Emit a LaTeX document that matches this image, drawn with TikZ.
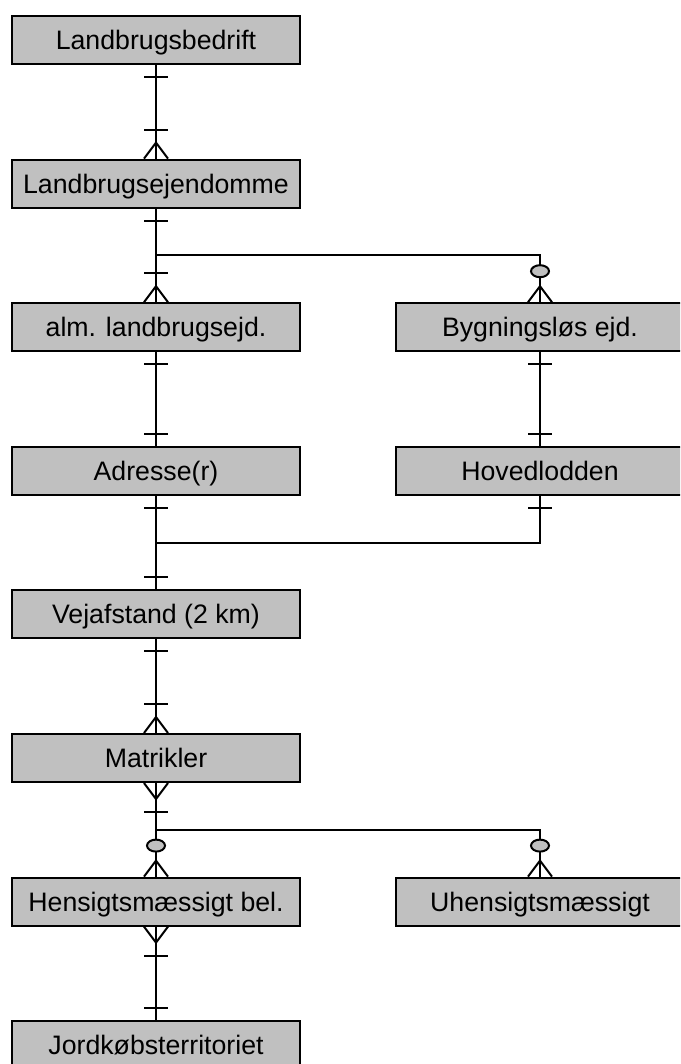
\documentclass[tikz,border=0pt]{standalone}
\usepackage{fontspec}
\setmainfont{Liberation Sans}
\usepackage{xcolor}
\definecolor{boxgray}{RGB}{192,192,192}

\tikzset{entity/.style={draw, fill=boxgray, minimum width=288pt, minimum height=48pt,
  inner sep=0pt, text height=19pt, text depth=0pt, font=\fontsize{26.7}{30}\selectfont}}
% crow's foot marks: anchor, offset from the box edge
\newcommand{\erone}[2]{\draw (#1) ++(0,#2) +(-12,0) -- +(12,0);}
\newcommand{\ermany}[2]{\draw (#1) +(-12,0) -- +(0,#2) -- +(12,0);}
\newcommand{\erzero}[2]{\draw[fill=boxgray] (#1) ++(0,#2) ellipse [x radius=9pt, y radius=6pt];}

\begin{document}
\begin{tikzpicture}[x=1pt, y=-1pt, line width=2pt]
  \useasboundingbox (0,0) rectangle (680,1064);
  \clip (0,0) rectangle (680,1064);
  \node[entity] (bedrift) at (156,40) {Landbrugsbedrift};
  \node[entity] (ejd) at (156,183.6) {Landbrugsejendomme};
  \node[entity] (alm) at (156,327.2) {alm. landbrugsejd.};
  \node[entity] (bygn) at (540,327.2) {Bygningsløs ejd.};
  \node[entity] (adr) at (156,470.8) {Adresse(r)};
  \node[entity] (hoved) at (540,470.8) {Hovedlodden};
  \node[entity] (vej) at (156,614.4) {Vejafstand (2 km)};
  \node[entity] (matr) at (156,758) {Matrikler};
  \node[entity] (hens) at (156,901.6) {Hensigtsmæssigt bel.};
  \node[entity] (uhens) at (540,901.6) {Uhensigtsmæssigt};
  \node[entity] (jord) at (156,1045.2) {Jordkøbsterritoriet};
  \coordinate (j1) at (156,255.4);
  \coordinate (j2) at (156,542.6);
  \coordinate (j3) at (156,829.8);

	\draw (bedrift)--(ejd);
	\draw (ejd)--(j1)--(alm);
	\draw (j1)-|(bygn);
	\draw (alm)--(adr);
	\draw (bygn)--(hoved);
	\draw (adr)--(j2)--(vej);
	\draw (hoved)|-(j2);
	\draw (vej)--(matr);
	\draw (matr)--(j3)--(hens);
	\draw (j3)-|(uhens);
	\draw (hens)--(jord);

  % ends
  \erone{bedrift.south}{12} \erone{ejd.north}{-29} \ermany{ejd.north}{-16}
  \erone{ejd.south}{12}
  \erone{alm.north}{-29} \ermany{alm.north}{-16}
  \erzero{bygn.north}{-31} \ermany{bygn.north}{-16}
  \erone{alm.south}{12} \erone{adr.north}{-12}
  \erone{bygn.south}{12} \erone{hoved.north}{-12}
  \erone{adr.south}{12} \erone{hoved.south}{12} \erone{vej.north}{-12}
  \erone{vej.south}{12} \erone{matr.north}{-29} \ermany{matr.north}{-16}
  \ermany{matr.south}{16} \erone{matr.south}{29}
  \erzero{hens.north}{-31} \ermany{hens.north}{-16}
  \erzero{uhens.north}{-31} \ermany{uhens.north}{-16}
  \ermany{hens.south}{16} \erone{hens.south}{29} \erone{jord.north}{-12}
  %\draw (matr)--(uhens);
\end{tikzpicture}
\end{document}
